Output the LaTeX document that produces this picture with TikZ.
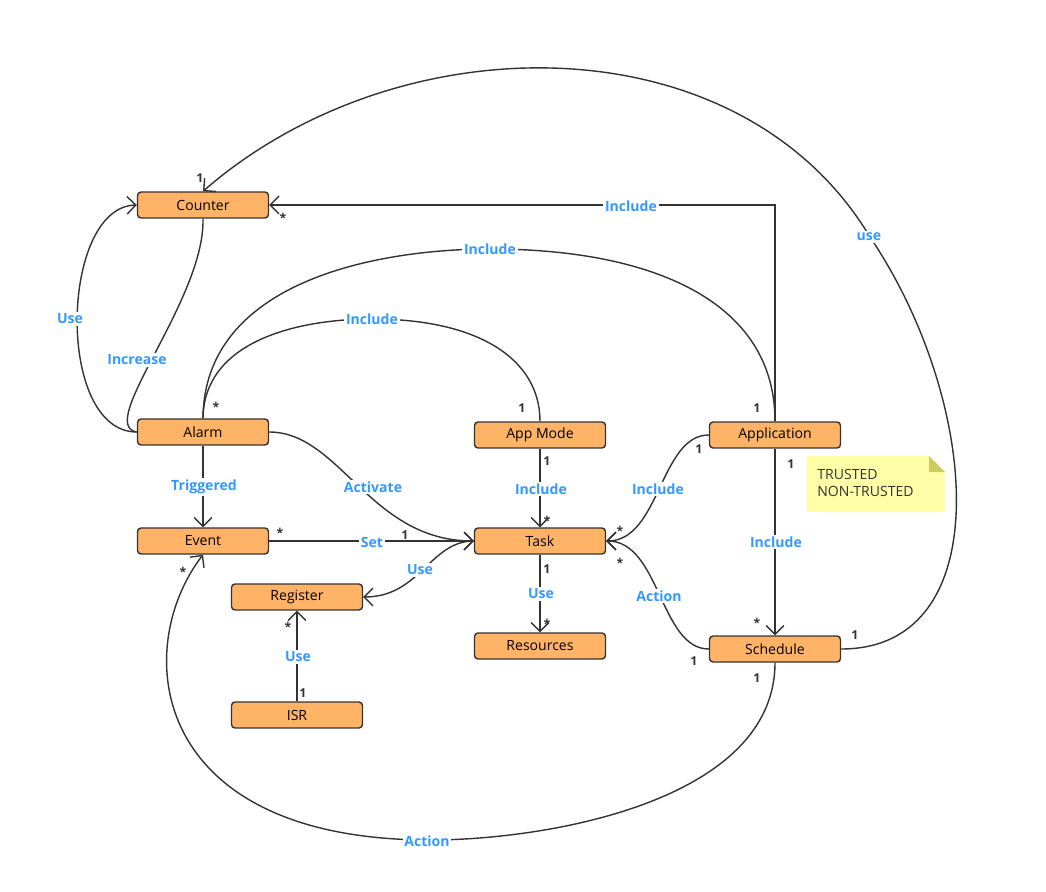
\documentclass[tikz,border=0pt]{standalone}
\usepackage{fontspec}
\setmainfont{Open Sans}
\usetikzlibrary{calc, arrows.meta, positioning}
\definecolor{boxfill}{HTML}{FFB366}
\definecolor{lblblue}{HTML}{3399FF}
\definecolor{notefill}{HTML}{FFFFA8}
\definecolor{line}{HTML}{333333}
\begin{document}
\begin{tikzpicture}[x=0.02cm, y=-0.02cm, font=\footnotesize]
		\tikzstyle{entity} = [draw=line, fill=boxfill, rounded corners=2pt, thick, minimum width=2.62cm, minimum height=0.52cm, inner sep=0pt]
		\tikzstyle{arrow} = [thick, draw=line, ->, >={Straight Barb[length=5pt, width=10pt]}]
		\tikzstyle{link} = [thick, draw=line]
		\tikzstyle{lbl} = [fill=white, text=lblblue, font=\footnotesize\bfseries, inner sep=1pt]
		\tikzstyle{mult} = [font=\scriptsize\bfseries, text=line, inner sep=0pt]
		
		\useasboundingbox (0,0) rectangle (1046,892);
		
		\node[entity]	at (203, 205)	(counter)	{Counter};
		\node[entity]	at (203, 432)	(alarm)		{Alarm};
		\node[entity]	at (203, 541)	(event)		{Event};
		\node[entity]	at (297, 597)	(register)	{Register};
		\node[entity]	at (297, 715)	(isr)		{ISR};
		\node[entity]	at (540, 435)	(appmode)	{App Mode};
		\node[entity]	at (540, 541)	(task)		{Task};
		\node[entity]	at (540, 646)	(resources)	{Resources};
		\node[entity]	at (775, 435)	(application)	{Application};
		\node[entity]	at (775, 649)	(schedule)	{Schedule};
		
		% note
		\fill[notefill] (807, 456) -- (929, 456) -- (945, 472) -- (945, 512) -- (807, 512) -- cycle;
		\fill[notefill!60!olive] (929, 456) -- (945, 472) -- (929, 472) -- cycle;
		\node[align=left, anchor=north west, font=\footnotesize, text=line, inner sep=0pt] at (817, 469) (note) {TRUSTED\\NON-TRUSTED};
		
		% connectors
		\draw [arrow] (application.north) |- (counter.east);
		\draw [arrow] (alarm.west) .. controls (55, 432) and (60, 207) .. (counter.west);
		\draw [link] (alarm.west) .. controls (95, 425) and (205, 300) .. (counter.south);
		\draw [arrow] (schedule.east) .. controls (1000, 649) and (980, 400) .. (870, 237)
			.. controls (740, 20) and (400, 20) .. (counter.north);
		\draw [link] (alarm.north) .. controls (204, 280) and (380, 249) .. (490, 249)
			.. controls (650, 249) and (775, 300) .. (application.north);
		\draw [link] (alarm.north) .. controls (204, 340) and (300, 319) .. (372, 319)
			.. controls (480, 319) and (540, 360) .. (appmode.north);
		\draw [arrow] (alarm.south) -- (event.north);
		\draw [arrow] (alarm.east) .. controls (340, 432) and (370, 541) .. (task.west);
		\draw [arrow] (event.east) -- (task.west);
		\draw [arrow] (task.west) .. controls (430, 541) and (420, 597) .. (register.east);
		\draw [arrow] (isr.north) -- (register.south);
		\draw [arrow] (appmode.south) -- (task.north);
		\draw [arrow] (task.south) -- (resources.north);
		\draw [arrow] (application.west) .. controls (660, 435) and (660, 541) .. (task.east);
		\draw [arrow] (schedule.west) .. controls (660, 649) and (660, 541) .. (task.east);
		\draw [arrow] (application.south) -- (schedule.north);
		\draw [arrow] (schedule.south) .. controls (775, 800) and (550, 840) .. (430, 840)
			.. controls (150, 840) and (130, 650) .. (event.south);
		
		% labels
		\node[lbl] at (631, 206) (l1) {Include};
		\node[lbl] at (70, 319) (l2) {Use};
		\node[lbl] at (137, 360) (l3) {Increase};
		\node[lbl] at (869, 237) (l4) {use};
		\node[lbl] at (490, 249) (l5) {Include};
		\node[lbl] at (372, 319) (l6) {Include};
		\node[lbl] at (204, 487) (l7) {Triggered};
		\node[lbl] at (373, 487) (l8) {Activate};
		\node[lbl] at (372, 542) (l9) {Set};
		\node[lbl] at (420, 570) (l10) {Use};
		\node[lbl] at (298, 657) (l11) {Use};
		\node[lbl] at (541, 489) (l12) {Include};
		\node[lbl] at (541, 594) (l13) {Use};
		\node[lbl] at (658, 489) (l14) {Include};
		\node[lbl] at (659, 596) (l15) {Action};
		\node[lbl] at (776, 542) (l16) {Include};
		\node[lbl] at (427, 841) (l17) {Action};
		
		% multiplicities
		\node[mult] at (200, 178) {1};
		\node[mult] at (283, 218) {*};
		\node[mult] at (216, 407) {*};
		\node[mult] at (522, 408) {1};
		\node[mult] at (757, 408) {1};
		\node[mult] at (280, 533) {*};
		\node[mult] at (405, 535) {1};
		\node[mult] at (288, 627) {*};
		\node[mult] at (303, 693) {1};
		\node[mult] at (547, 461) {1};
		\node[mult] at (547, 521) {*};
		\node[mult] at (547, 569) {1};
		\node[mult] at (547, 624) {*};
		\node[mult] at (699, 449) {1};
		\node[mult] at (620, 531) {*};
		\node[mult] at (620, 563) {*};
		\node[mult] at (694, 661) {1};
		\node[mult] at (791, 464) {1};
		\node[mult] at (757, 623) {*};
		\node[mult] at (855, 635) {1};
		\node[mult] at (757, 678) {1};
		\node[mult] at (183, 572) {*};
	\end{tikzpicture}
\end{document}
